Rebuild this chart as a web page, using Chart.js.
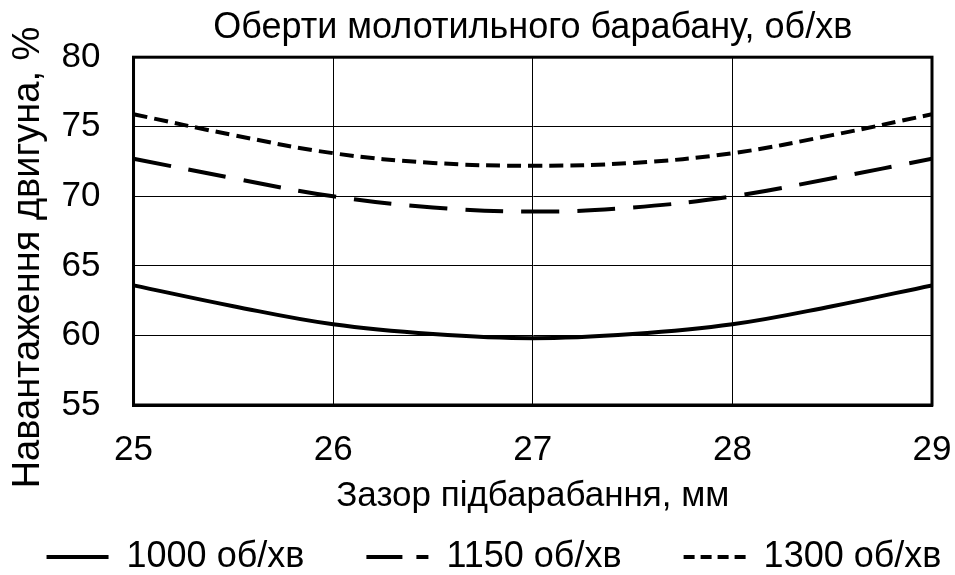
<!DOCTYPE html>
<html lang="uk">
<head>
    <meta charset="utf-8" />
    <title>Навантаження двигуна</title>
    <script src="https://cdn.jsdelivr.net/npm/chart.js"></script>
    <style>
        body { margin: 0; background: #fff; }
        #wrap { width: 955px; height: 575px; }
    </style>
</head>
<body>
<div id="wrap"><canvas id="loadChart"></canvas></div>
<script>
    // зазор підбарабання, мм
    var gap = [25, 25.5, 26, 26.5, 27, 27.5, 28, 28.5, 29];
    // навантаження двигуна, %
    var load1000 = [63.6, 62.1, 60.8, 60.1, 59.8, 60.1, 60.8, 62.1, 63.6];
    var load1150 = [72.7, 71.3, 70.0, 69.2, 68.9, 69.2, 70.0, 71.3, 72.7];
    var load1300 = [75.9, 74.4, 73.1, 72.4, 72.2, 72.4, 73.1, 74.4, 75.9];
    var seriesNames = ['1000 об/хв', '1150 об/хв', '1300 об/хв'];
    var xTicks = [25, 26, 27, 28, 29];
    var yTicks = [55, 60, 65, 70, 75, 80];

    function pts(vals) {
        return gap.map(function (g, i) { return { x: g, y: vals[i] }; });
    }

    var FONT = 'Liberation Sans, Arial, sans-serif';
    // dash patterns of the legend samples
    var legendDash = [[], [36, 14, 12, 14], [11, 6]];
    // spacing after the first two legend entries
    var legendGap = '      ';

    // frame round the plot area, legend nudged right and down
    var frame = {
        id: 'frame',
        afterLayout: function (chart) {
            var lg = chart.legend;
            lg.left += 25;
            lg.right += 25;
            lg.top += 10;
            lg.bottom += 10;
        },
        afterDraw: function (chart) {
            var a = chart.chartArea, c = chart.ctx;
            c.save();
            c.strokeStyle = '#000';
            c.lineWidth = 3;
            c.strokeRect(a.left, a.top, a.right - a.left, a.bottom - a.top);
            c.restore();
        }
    };

    var ctx = document.getElementById('loadChart').getContext('2d');
    new Chart(ctx, {
        type: 'line',
        data: {
            datasets: [{
                label: seriesNames[0],
                data: pts(load1000),
                borderColor: '#000',
                borderWidth: 4,
                pointRadius: 0,
                tension: 0.4
            }, {
                label: seriesNames[1],
                data: pts(load1150),
                borderColor: '#000',
                borderWidth: 4,
                borderDash: [38, 18],
                pointRadius: 0,
                tension: 0.4
            }, {
                label: seriesNames[2],
                data: pts(load1300),
                borderColor: '#000',
                borderWidth: 4,
                borderDash: [14, 7],
                pointRadius: 0,
                tension: 0.4
            }]
        },
        options: {
            responsive: true,
            maintainAspectRatio: false,
            animation: false,
            layout: { padding: { left: 6, right: 23, top: 0, bottom: 0 } },
            plugins: {
                title: {
                    display: true,
                    fullSize: false,
                    text: 'Оберти молотильного барабану, об/хв',
                    color: '#000',
                    font: { family: FONT, size: 36, weight: 'normal' },
                    padding: { top: 6, bottom: 8 }
                },
                legend: {
                    position: 'bottom',
                    labels: {
                        color: '#000',
                        font: { family: FONT, size: 36 },
                        usePointStyle: true,
                        pointStyle: 'line',
                        pointStyleWidth: 62,
                        boxHeight: 4,
                        padding: 2,
                        generateLabels: function (chart) {
                            var n = chart.data.datasets.length;
                            return chart.data.datasets.map(function (ds, i) {
                                return {
                                    text: ds.label + (i < n - 1 ? legendGap : ''),
                                    datasetIndex: i,
                                    fillStyle: '#000',
                                    strokeStyle: '#000',
                                    fontColor: '#000',
                                    lineWidth: 4,
                                    lineDash: legendDash[i],
                                    pointStyle: 'line',
                                    hidden: false
                                };
                            });
                        }
                    }
                },
                tooltip: { enabled: false }
            },
            scales: {
                x: {
                    type: 'linear',
                    min: 25,
                    max: 29,
                    afterBuildTicks: function (axis) {
                        axis.ticks = xTicks.map(function (v) { return { value: v }; });
                    },
                    grid: { color: '#000', lineWidth: 1, drawTicks: true, tickLength: 24, tickColor: 'rgba(0,0,0,0)' },
                    border: { color: '#000', width: 3 },
                    ticks: { color: '#000', font: { family: FONT, size: 35 }, padding: 0, maxRotation: 0, autoSkip: false },
                    title: {
                        display: true,
                        text: 'Зазор підбарабання, мм',
                        color: '#000',
                        font: { family: FONT, size: 35 },
                        padding: { top: 4, bottom: 10 }
                    }
                },
                y: {
                    min: 55,
                    max: 80,
                    afterBuildTicks: function (axis) {
                        axis.ticks = yTicks.map(function (v) { return { value: v }; });
                    },
                    grid: { color: '#000', lineWidth: 1, drawTicks: true, tickLength: 33, tickColor: 'rgba(0,0,0,0)' },
                    border: { color: '#000', width: 3 },
                    ticks: { color: '#000', font: { family: FONT, size: 35 }, padding: 0, autoSkip: false },
                    title: {
                        display: true,
                        // trailing spaces push the label a little down the axis
                        text: 'Навантаження двигуна, %     ',
                        color: '#000',
                        font: { family: FONT, size: 38 },
                        padding: { top: 0, bottom: 10 }
                    }
                }
            }
        },
        plugins: [frame]
    });
</script>
</body>
</html>
